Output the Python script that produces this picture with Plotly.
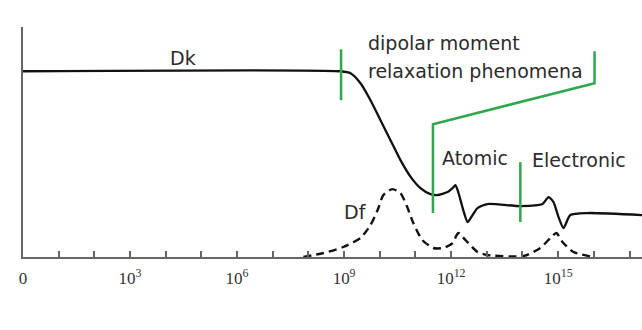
import plotly.graph_objects as go

# x in decades (log10 of frequency in Hz), y in arbitrary units
dk_x = [0, 8.90, 9.18, 9.46, 9.74, 10.02, 10.30, 10.58, 10.87, 11.14, 11.42, 11.61, 11.90, 12.04, 12.12,
        12.20, 12.34, 12.46, 12.60, 12.74, 13.02, 13.94, 14.56, 14.73, 14.87, 15.01, 15.15, 15.34, 15.82, 17.36]
dk_y = [186, 186, 184, 174, 157, 137, 117, 97, 80, 69, 63, 62, 65, 69, 72,
        65, 47, 35, 42, 49, 53, 51, 53, 60, 55, 40, 29, 42, 44, 42]

df_x = [7.86, 8.42, 8.98, 9.46, 9.74, 9.94, 10.10, 10.35, 10.58, 10.77, 10.94, 11.19, 11.50, 11.78, 12.04,
        12.20, 12.40, 12.74, 13.02, 14.03, 14.50, 14.78, 14.95, 15.12, 15.43, 15.99]
df_y = [0, 4, 10, 19, 32, 47, 62, 68, 64, 50, 34, 17, 9, 9, 14,
        24, 17, 5, 2, 1, 9, 19, 24, 15, 5, 0]

tick_vals = list(range(0, 18))
tick_text = ["0" if v == 0 else ("10<sup>%d</sup>" % v if v % 3 == 0 else "") for v in tick_vals]

# green marker lines (x in decades, y in units)
dipolar_mark_x = [8.915, 8.915]
dipolar_mark_y = [157, 208]
bracket_x = [11.49, 11.49, 16.02, 16.02]
bracket_y = [44, 133, 174, 206]
electronic_mark_x = [13.94, 13.94]
electronic_mark_y = [35, 95]

GREEN = "#2ea84c"
TXT = "#2b2b2b"

fig = go.Figure()
fig.add_trace(go.Scatter(x=dk_x, y=dk_y, mode="lines", line=dict(color="#111", width=2.3, shape="spline", smoothing=0.6),
                         hoverinfo="skip", showlegend=False))
fig.add_trace(go.Scatter(x=df_x, y=df_y, mode="lines", line=dict(color="#111", width=2.4, dash="8px,5px", shape="spline", smoothing=0.6),
                         hoverinfo="skip", showlegend=False))
for xs, ys in [(dipolar_mark_x, dipolar_mark_y), (bracket_x, bracket_y), (electronic_mark_x, electronic_mark_y)]:
    fig.add_trace(go.Scatter(x=xs, y=ys, mode="lines", line=dict(color=GREEN, width=2.5),
                             hoverinfo="skip", showlegend=False))

font = dict(family="DejaVu Sans", size=19, color=TXT)
anns = [
    dict(x=4.49, y=199, text="Dk", xanchor="center", yanchor="middle"),
    dict(x=9.60, y=214, text="dipolar moment", xanchor="left", yanchor="middle"),
    dict(x=9.60, y=186, text="relaxation phenomena", xanchor="left", yanchor="middle"),
    dict(x=11.70, y=99, text="Atomic", xanchor="left", yanchor="middle"),
    dict(x=14.22, y=97, text="Electronic", xanchor="left", yanchor="middle"),
    dict(x=9.32, y=45, text="Df", xanchor="center", yanchor="middle"),
]
for a in anns:
    fig.add_annotation(**a, xref="x", yref="y", showarrow=False, font=font)
fig.add_annotation(x=7.94, y=-52.7, xref="x", yref="y", text="Frequency (Hz)", showarrow=False,
                   xanchor="center", yanchor="middle", font=dict(family="DejaVu Sans", size=17, color=TXT))

fig.update_layout(
    width=642, height=330, margin=dict(l=23, r=0, t=27, b=73),
    paper_bgcolor="white", plot_bgcolor="white",
    xaxis=dict(range=[0, 17.35], tickmode="array", tickvals=tick_vals, ticktext=tick_text,
               ticks="inside", ticklen=6, tickwidth=1.5, tickcolor="#666", ticklabelstandoff=5,
               showline=True, linecolor="#666", linewidth=2, showgrid=False, zeroline=False,
               tickfont=dict(family="Liberation Serif", size=17, color="#333"), fixedrange=True),
    yaxis=dict(range=[0, 230.3], showline=True, linecolor="#666", linewidth=2, showgrid=False,
               zeroline=False, showticklabels=False, ticks="", fixedrange=True),
)
fig.write_html("out.html")
